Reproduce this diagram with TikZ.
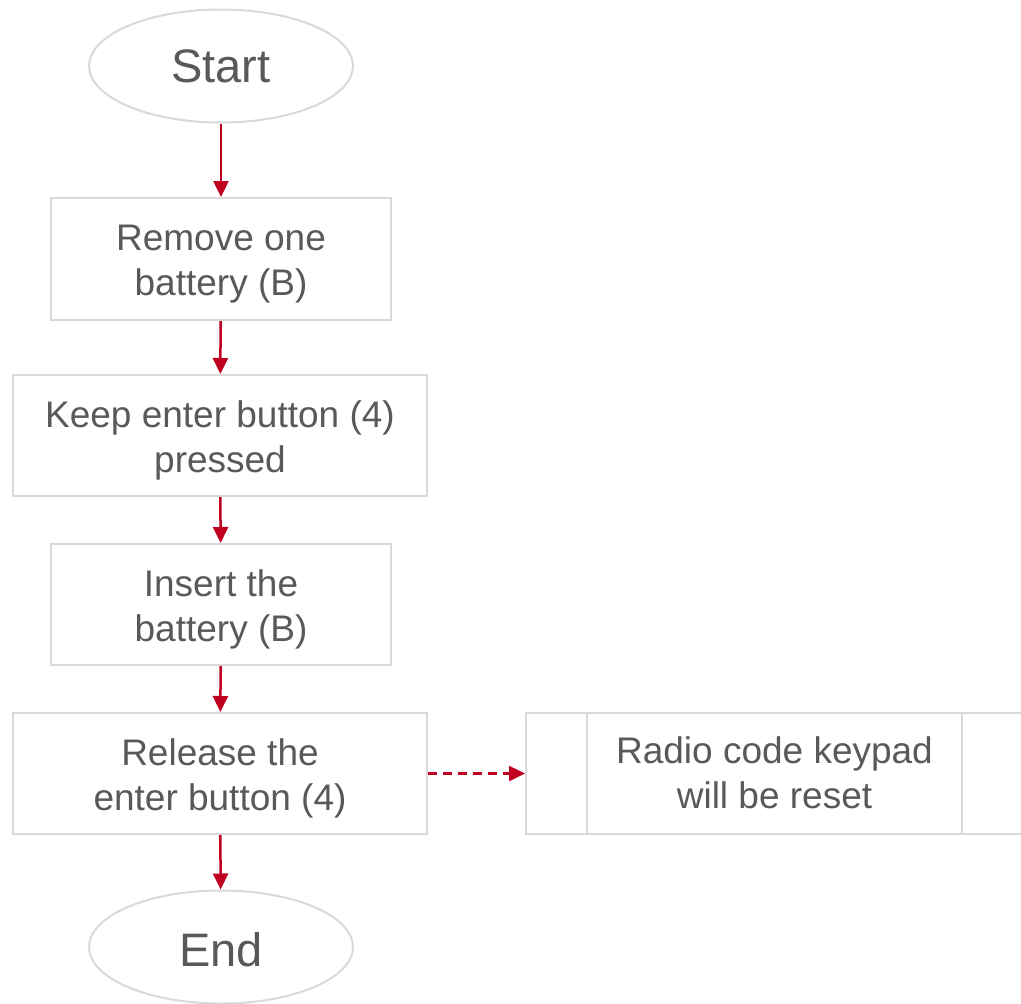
\documentclass[tikz,border=0pt]{standalone}
\usepackage{fontspec}
\setmainfont{Liberation Sans}
\usetikzlibrary{shapes.geometric,arrows.meta}
\definecolor{bordergray}{HTML}{D9D9D9}
\definecolor{txtgray}{HTML}{595959}
\definecolor{flowred}{HTML}{C00020}
\begin{document}
\begin{tikzpicture}[x=1pt,y=-1pt,
  boxstyle/.style={draw=bordergray,line width=2pt,fill=white,inner sep=0pt},
  plaintext/.style={font=\fontsize{37}{45}\selectfont,text=txtgray,align=center},
  boxtext/.style={plaintext,yshift=-5pt},
  termstyle/.style={ellipse,draw=bordergray,line width=2pt,fill=white,inner sep=0pt,
    minimum width=264pt,minimum height=113pt,font=\fontsize{47}{56}\selectfont,text=txtgray},
  flowarrow/.style={draw=flowred,line width=2.5pt,-{Triangle[length=16pt,width=15pt]}}]
\useasboundingbox (0,0) rectangle (1021,1004);
\clip (0,0) rectangle (1021,1004);
\node[termstyle] (start) at (221,66) {Start};
\node[boxstyle,minimum width=340pt,minimum height=122pt,
  label={[boxtext]center:Remove one\\battery (B)}] (b1) at (221,259) {};
\node[boxstyle,minimum width=414pt,minimum height=121pt,
  label={[boxtext]center:Keep enter button (4)\\pressed}] (b2) at (220,435.5) {};
\node[boxstyle,minimum width=340pt,minimum height=121pt,
  label={[boxtext]center:Insert the\\battery (B)}] (b3) at (221,604.5) {};
\node[boxstyle,minimum width=414pt,minimum height=121pt,
  label={[boxtext]center:Release the\\enter button (4)}] (b4) at (220,773.5) {};
\node[termstyle,label={[font=\fontsize{47}{56}\selectfont,text=txtgray,yshift=-3pt]center:End}] (end) at (221,947) {};
% predefined process (extends beyond right edge)
\node[boxstyle,minimum width=560pt,minimum height=121pt,anchor=west] (pp) at (525,773.5) {};
\draw[bordergray,line width=2pt] (587,713) -- (587,834);
\draw[bordergray,line width=2pt] (962,713) -- (962,834);
\node[plaintext] (pptext) at (774.5,773) {Radio code keypad\\will be reset};
\draw[flowarrow] (start) -- (b1);
\draw[flowarrow] (b1) -- (b2);
\draw[flowarrow] (b2) -- (b3);
\draw[flowarrow] (b3) -- (b4);
\draw[flowarrow] (b4) -- (end);
\draw[flowarrow,dash pattern=on 9pt off 6pt] (b4.east) -- (pp.west);
\end{tikzpicture}
\end{document}
